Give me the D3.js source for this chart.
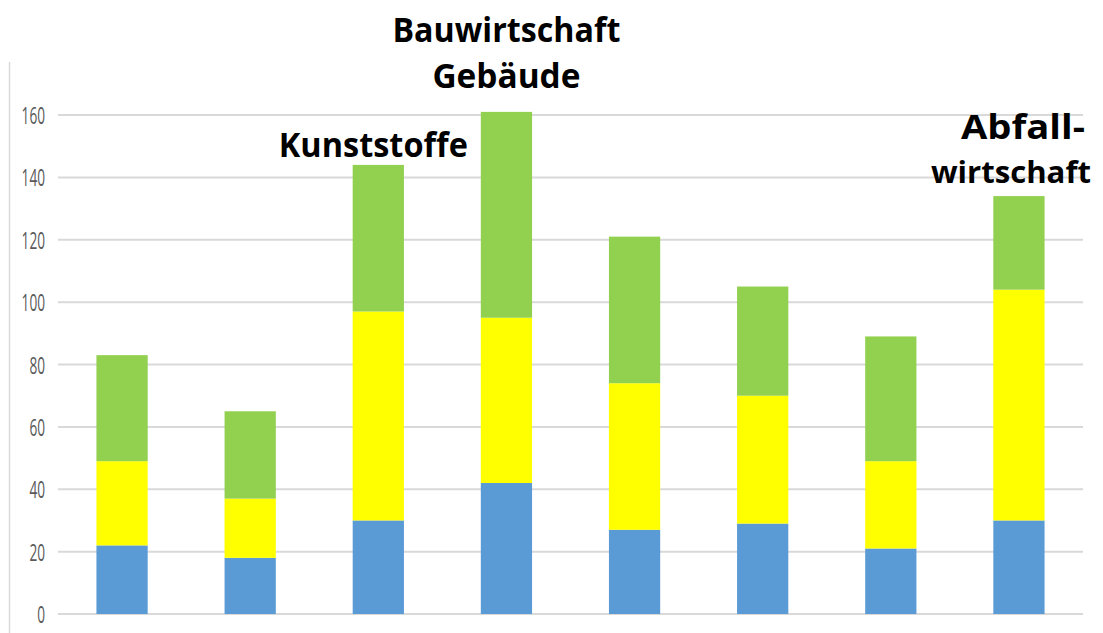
<!DOCTYPE html>
<html>
<head>
<meta charset="utf-8">
<script src="https://cdn.jsdelivr.net/npm/d3@7"></script>
<style>
  body { margin: 0; background: #fff; }
</style>
</head>
<body>
<svg id="chart" width="1103" height="633"></svg>
<script>
// data
var categories = ["c1", "c2", "c3", "c4", "c5", "c6", "c7", "c8"]
var blueVals   = [22, 18, 30, 42, 27, 29, 21, 30]
var yellowVals = [27, 19, 67, 53, 47, 41, 28, 74]
var greenVals  = [34, 28, 47, 66, 47, 35, 40, 30]
var yTicks = [0, 20, 40, 60, 80, 100, 120, 140, 160]

// labels above some bars: [category, lines]
var notes = [
  { cat: "c3", lines: ["Kunststoffe"] },
  { cat: "c4", lines: ["Bauwirtschaft", "Gebäude"] },
  { cat: "c8", lines: ["Abfall-", "wirtschaft"] }
]

var blue = "#5B9BD5"
var yellow = "#FFFF00"
var green = "#92D050"

var svg = d3.select("#chart")

var x = d3.scaleBand().domain(categories).range([58, 1083]).paddingInner(0.6).paddingOuter(0.3)
var y = d3.scaleLinear().domain([0, 160]).range([614, 115])

// left frame line
svg.append("line")
  .attr("x1", 9.5).attr("x2", 9.5)
  .attr("y1", 62).attr("y2", 633)
  .style("stroke", "#d9d9d9").style("stroke-width", 1.5)

// gridlines
svg.append("g")
  .selectAll("line")
  .data(yTicks)
  .join("line")
  .attr("x1", 58).attr("x2", 1083)
  .attr("y1", d => y(d)).attr("y2", d => y(d))
  .style("stroke", "#d9d9d9").style("stroke-width", 2)

// tick labels (narrow font look)
svg.append("g")
  .selectAll("text")
  .data(yTicks)
  .join("text")
  .attr("x", 45)
  .attr("y", d => y(d) + 9)
  .attr("text-anchor", "end")
  .attr("textLength", d => String(d).length * 7.8)
  .attr("lengthAdjust", "spacingAndGlyphs")
  .style("font-family", "'Open Sans', sans-serif")
  .style("font-size", "24px")
  .style("fill", "#595959")
  .text(d => d)

// stacked bars
var rows = categories.map(function (c, i) {
  return { cat: c, blue: blueVals[i], yellow: yellowVals[i], green: greenVals[i] }
})
var stack = d3.stack().keys(["blue", "yellow", "green"])(rows)
var colors = { blue: blue, yellow: yellow, green: green }

svg.append("g")
  .selectAll("g")
  .data(stack)
  .join("g")
  .style("fill", d => colors[d.key])
  .selectAll("rect")
  .data(d => d)
  .join("rect")
  .attr("x", d => x(d.data.cat))
  .attr("width", x.bandwidth())
  .attr("y", d => y(d[1]))
  .attr("height", d => y(d[0]) - y(d[1]))

// annotations
var noteLayout = {
  c3: { dx: [-5], base: [157], w: [189], fs: [34] },
  c4: { dx: [0, 0], base: [42, 88], w: [228, 148], fs: [34, 34] },
  c8: { dx: [4, -8], base: [139, 183], w: [124, 160], fs: [34, 31] }
}
notes.forEach(function (n) {
  var lay = noteLayout[n.cat]
  var cx = x(n.cat) + x.bandwidth() / 2
  n.lines.forEach(function (line, i) {
    svg.append("text")
      .attr("x", cx + lay.dx[i])
      .attr("y", lay.base[i])
      .attr("text-anchor", "middle")
      .attr("textLength", lay.w[i])
      .attr("lengthAdjust", "spacingAndGlyphs")
      .style("font-family", "'Open Sans', sans-serif")
      .style("font-weight", "bold")
      .style("font-size", lay.fs[i] + "px")
      .style("fill", "#000")
      .text(line)
  })
})
</script>
</body>
</html>
